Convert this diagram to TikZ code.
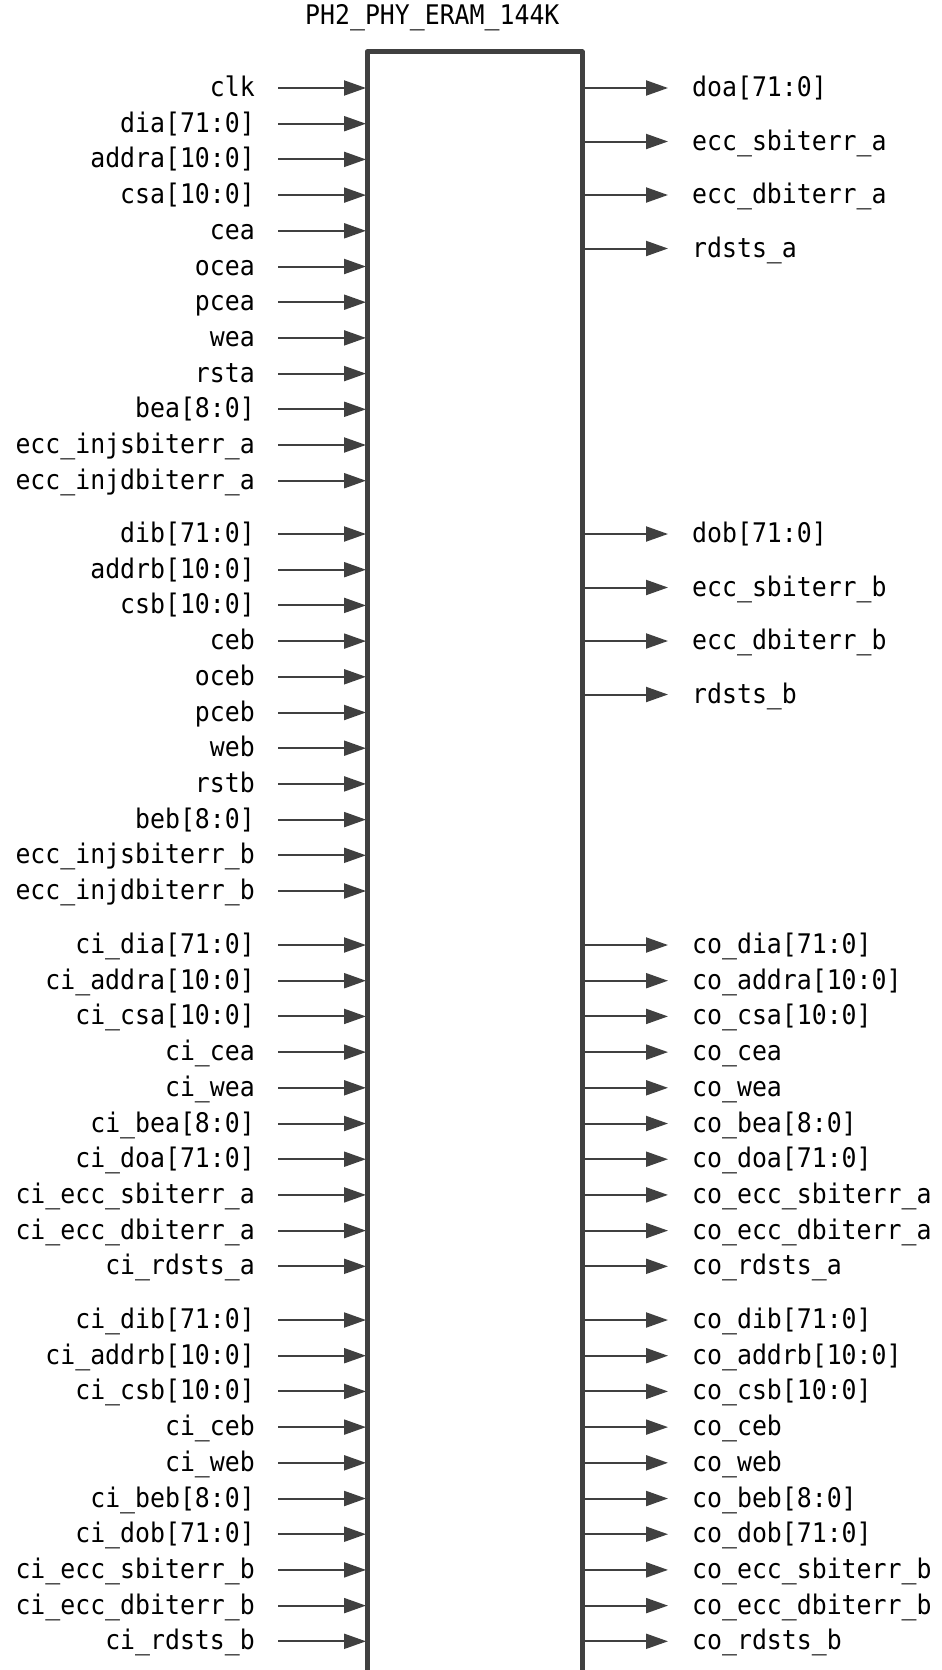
\documentclass[tikz,border=0pt]{standalone}
\usepackage{fontspec}
\setmonofont[FakeStretch=0.92]{DejaVu Sans Mono}
\usetikzlibrary{arrows.meta}
\definecolor{pincol}{RGB}{64,64,64}
\begin{document}
\begin{tikzpicture}[x=1pt,y=-1pt,
  lbl/.style={inner sep=0pt, font=\ttfamily\fontsize{27}{32}\selectfont, text=black},
  pin/.style={draw=pincol, line width=2pt, -{Triangle[length=22pt,width=15pt]}},
  boxline/.style={draw=pincol, line width=5pt, line join=round}]
\useasboundingbox (0,0) rectangle (942,1670);
\path[fill=white] (0,0) rectangle (942,1670);
\node[lbl, anchor=base west] (title) at (305,25) {PH2\_PHY\_ERAM\_144K};
\coordinate (bl) at (367,1676);
\coordinate (tl) at (367,52);
\coordinate (tr) at (582,52);
\coordinate (br) at (582,1676);
\draw[boxline] (bl) -- (tl) -- (tr) -- (br);
% left group A
\foreach \lab [count=\i from 0] in {clk,dia[71:0],addra[10:0],csa[10:0],cea,ocea,pcea,wea,rsta,bea[8:0],ecc\_injsbiterr\_a,ecc\_injdbiterr\_a} {
  \pgfmathsetmacro\yy{88+\i*35.7}
  \node[lbl, anchor=base east] (la\i) at (255,\yy+8.5) {\lab};
  \coordinate (las\i) at (278,\yy);
  \coordinate (lat\i) at (366,\yy);
  \draw[pin] (las\i) -- (lat\i);
}
% left group B
\foreach \lab [count=\i from 0] in {dib[71:0],addrb[10:0],csb[10:0],ceb,oceb,pceb,web,rstb,beb[8:0],ecc\_injsbiterr\_b,ecc\_injdbiterr\_b} {
  \pgfmathsetmacro\yy{534+\i*35.7}
  \node[lbl, anchor=base east] (lb\i) at (255,\yy+8.5) {\lab};
  \coordinate (lbs\i) at (278,\yy);
  \coordinate (lbt\i) at (366,\yy);
  \draw[pin] (lbs\i) -- (lbt\i);
}
% left group C
\foreach \lab [count=\i from 0] in {ci\_dia[71:0],ci\_addra[10:0],ci\_csa[10:0],ci\_cea,ci\_wea,ci\_bea[8:0],ci\_doa[71:0],ci\_ecc\_sbiterr\_a,ci\_ecc\_dbiterr\_a,ci\_rdsts\_a} {
  \pgfmathsetmacro\yy{945+\i*35.7}
  \node[lbl, anchor=base east] (lc\i) at (255,\yy+8.5) {\lab};
  \coordinate (lcs\i) at (278,\yy);
  \coordinate (lct\i) at (366,\yy);
  \draw[pin] (lcs\i) -- (lct\i);
}
% left group D
\foreach \lab [count=\i from 0] in {ci\_dib[71:0],ci\_addrb[10:0],ci\_csb[10:0],ci\_ceb,ci\_web,ci\_beb[8:0],ci\_dob[71:0],ci\_ecc\_sbiterr\_b,ci\_ecc\_dbiterr\_b,ci\_rdsts\_b} {
  \pgfmathsetmacro\yy{1320+\i*35.7}
  \node[lbl, anchor=base east] (ld\i) at (255,\yy+8.5) {\lab};
  \coordinate (lds\i) at (278,\yy);
  \coordinate (ldt\i) at (366,\yy);
  \draw[pin] (lds\i) -- (ldt\i);
}
% right group A
\foreach \lab [count=\i from 0] in {doa[71:0],ecc\_sbiterr\_a,ecc\_dbiterr\_a,rdsts\_a} {
  \pgfmathsetmacro\yy{88+\i*53.5}
  \node[lbl, anchor=base west] (ra\i) at (692,\yy+8.5) {\lab};
  \coordinate (ras\i) at (582,\yy);
  \coordinate (rat\i) at (668,\yy);
  \draw[pin] (ras\i) -- (rat\i);
}
% right group B
\foreach \lab [count=\i from 0] in {dob[71:0],ecc\_sbiterr\_b,ecc\_dbiterr\_b,rdsts\_b} {
  \pgfmathsetmacro\yy{534+\i*53.5}
  \node[lbl, anchor=base west] (rb\i) at (692,\yy+8.5) {\lab};
  \coordinate (rbs\i) at (582,\yy);
  \coordinate (rbt\i) at (668,\yy);
  \draw[pin] (rbs\i) -- (rbt\i);
}
% right group C
\foreach \lab [count=\i from 0] in {co\_dia[71:0],co\_addra[10:0],co\_csa[10:0],co\_cea,co\_wea,co\_bea[8:0],co\_doa[71:0],co\_ecc\_sbiterr\_a,co\_ecc\_dbiterr\_a,co\_rdsts\_a} {
  \pgfmathsetmacro\yy{945+\i*35.7}
  \node[lbl, anchor=base west] (rc\i) at (692,\yy+8.5) {\lab};
  \coordinate (rcs\i) at (582,\yy);
  \coordinate (rct\i) at (668,\yy);
  \draw[pin] (rcs\i) -- (rct\i);
}
% right group D
\foreach \lab [count=\i from 0] in {co\_dib[71:0],co\_addrb[10:0],co\_csb[10:0],co\_ceb,co\_web,co\_beb[8:0],co\_dob[71:0],co\_ecc\_sbiterr\_b,co\_ecc\_dbiterr\_b,co\_rdsts\_b} {
  \pgfmathsetmacro\yy{1320+\i*35.7}
  \node[lbl, anchor=base west] (rd\i) at (692,\yy+8.5) {\lab};
  \coordinate (rds\i) at (582,\yy);
  \coordinate (rdt\i) at (668,\yy);
  \draw[pin] (rds\i) -- (rdt\i);
}
\end{tikzpicture}
\end{document}
